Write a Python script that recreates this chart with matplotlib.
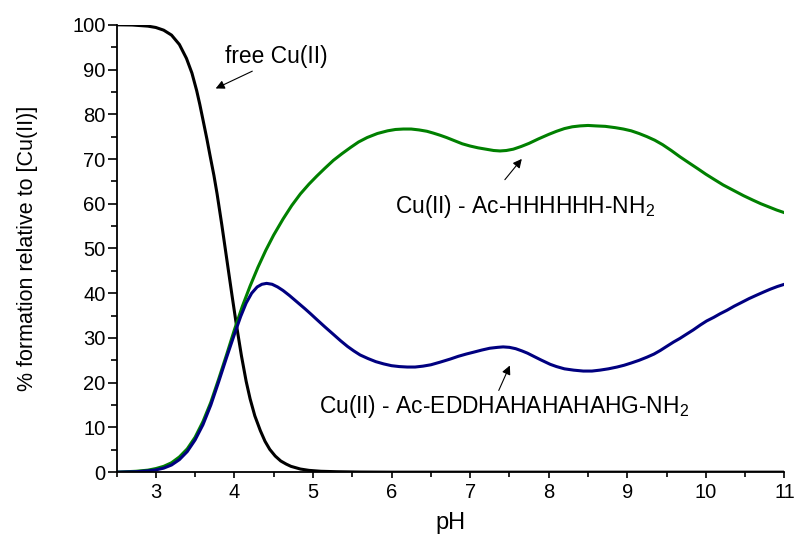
import matplotlib.pyplot as plt
from matplotlib.ticker import MultipleLocator

plt.rcParams["font.family"] = ["Liberation Sans", "DejaVu Sans"]
plt.rcParams["mathtext.fontset"] = "custom"
plt.rcParams["mathtext.rm"] = "Liberation Sans"
plt.rcParams["mathtext.default"] = "regular"

# free Cu(II)
ph_free = [2.5, 2.7, 2.9, 3.0, 3.1, 3.2, 3.3, 3.39, 3.46, 3.52, 3.56, 3.6, 3.65,
           3.69, 3.74, 3.78, 3.84, 3.9, 3.97, 4.02, 4.09, 4.15, 4.2, 4.26, 4.33,
           4.39, 4.45, 4.52, 4.59, 4.66, 4.72, 4.84, 4.95, 5.1, 5.3, 5.6, 6.0, 11.0]
free_cu = [100, 99.95, 99.7, 99.4, 98.8, 97.7, 95.6, 92.5, 89.2, 85.3, 82.2, 78.8, 74.5,
           70.8, 66.3, 62.2, 55.3, 48.0, 39.5, 33.6, 26.0, 20.3, 16.4, 12.6, 9.3,
           6.9, 5.1, 3.6, 2.5, 1.8, 1.3, 0.7, 0.4, 0.2, 0.1, 0.03, 0.0, 0.0]

# Cu(II) - Ac-HHHHHH-NH2
ph_h6 = [2.5, 2.75, 2.9, 3.0, 3.1, 3.2, 3.3, 3.4, 3.5, 3.6, 3.7, 3.8, 3.9, 4.0,
         4.1, 4.2, 4.3, 4.4, 4.5, 4.62, 4.73, 4.84, 4.95, 5.05, 5.15, 5.26, 5.37,
         5.48, 5.58, 5.69, 5.82, 5.95, 6.05, 6.15, 6.25, 6.35, 6.45, 6.53, 6.62,
         6.7, 6.8, 6.9, 7.0, 7.1, 7.2, 7.3, 7.38, 7.46, 7.55, 7.65, 7.75, 7.87,
         8.0, 8.1, 8.2, 8.3, 8.4, 8.5, 8.6, 8.72, 8.85, 8.95, 9.05, 9.15, 9.25,
         9.35, 9.45, 9.56, 9.67, 9.78, 9.9, 10.0, 10.1, 10.22, 10.35, 10.48, 10.6,
         10.7, 10.8, 10.9, 11.0]
h6 = [0.0, 0.2, 0.45, 0.8, 1.3, 2.1, 3.4, 5.2, 7.8, 11.3, 15.6, 20.8, 26.2, 31.8,
      37.0, 41.6, 45.8, 49.6, 53.0, 56.6, 59.6, 62.2, 64.4, 66.2, 67.9, 69.7, 71.2,
      72.6, 73.8, 74.8, 75.7, 76.3, 76.6, 76.7, 76.7, 76.5, 76.2, 75.8, 75.3,
      74.8, 74.1, 73.4, 72.9, 72.5, 72.2, 71.9, 71.8, 71.9, 72.2, 72.8, 73.5, 74.5,
      75.5, 76.2, 76.8, 77.2, 77.4, 77.5, 77.4, 77.3, 77.0, 76.7, 76.3, 75.7, 75.0,
      74.2, 73.2, 71.9, 70.5, 69.2, 67.8, 66.6, 65.5, 64.2, 63.0, 61.8, 60.8,
      60.0, 59.3, 58.6, 58.0]

# Cu(II) - Ac-EDDHAHAHAHAHG-NH2
ph_ah = [2.5, 2.75, 2.9, 3.0, 3.1, 3.2, 3.3, 3.4, 3.5, 3.6, 3.7, 3.8, 3.9, 4.0,
         4.08, 4.15, 4.22, 4.29, 4.35, 4.41, 4.48, 4.55, 4.62, 4.7, 4.8, 4.9, 4.97,
         5.05, 5.15, 5.26, 5.35, 5.44, 5.52, 5.6, 5.7, 5.8, 5.9, 6.0, 6.1, 6.2,
         6.3, 6.4, 6.5, 6.62, 6.75, 6.85, 6.95, 7.04, 7.15, 7.25, 7.35, 7.42, 7.5,
         7.58, 7.66, 7.73, 7.82, 7.9, 8.02, 8.1, 8.2, 8.32, 8.44, 8.55, 8.65, 8.76,
         8.87, 8.96, 9.05, 9.15, 9.25, 9.34, 9.42, 9.5, 9.59, 9.67, 9.75, 9.84,
         9.93, 10.01, 10.1, 10.18, 10.27, 10.36, 10.45, 10.55, 10.65, 10.74, 10.82,
         10.91, 11.0]
ah = [0.0, 0.1, 0.3, 0.5, 0.9, 1.6, 2.8, 4.6, 7.2, 10.6, 15.0, 20.2, 25.6, 30.8,
      34.8, 37.8, 40.0, 41.4, 42.0, 42.2, 42.0, 41.4, 40.6, 39.5, 38.0, 36.5, 35.4,
      34.1, 32.5, 30.8, 29.4, 28.1, 27.1, 26.2, 25.4, 24.7, 24.2, 23.8, 23.6, 23.5,
      23.5, 23.7, 24.0, 24.6, 25.3, 25.9, 26.4, 26.8, 27.3, 27.7, 27.9, 28.0, 27.9,
      27.6, 27.1, 26.6, 25.8, 25.1, 24.1, 23.6, 23.1, 22.8, 22.6, 22.6, 22.8, 23.1,
      23.5, 23.9, 24.4, 25.0, 25.7, 26.4, 27.2, 28.1, 29.1, 29.9, 30.8, 31.8,
      32.9, 33.8, 34.6, 35.4, 36.2, 37.1, 37.9, 38.8, 39.6, 40.3, 40.9,
      41.5, 42.0]

fig = plt.figure(figsize=(7.98, 5.39), dpi=100)
ax = fig.add_axes([0.146, 0.124, 0.837, 0.83])

ax.plot(ph_free, free_cu, color="black", lw=2.2)
ax.plot(ph_h6, h6, color="#008000", lw=2.2)
ax.plot(ph_ah, ah, color="#000080", lw=2.2)

ax.set_xlim(2.5, 11)
ax.set_ylim(0, 100)
ax.xaxis.set_major_locator(MultipleLocator(1))
ax.xaxis.set_minor_locator(MultipleLocator(0.5))
ax.yaxis.set_major_locator(MultipleLocator(10))
ax.yaxis.set_minor_locator(MultipleLocator(5))
ax.spines["top"].set_visible(False)
ax.spines["right"].set_visible(False)
for s in ("left", "bottom"):
    ax.spines[s].set_linewidth(1.3)
ax.tick_params(axis="both", which="both", direction="out", width=1.2, labelsize=14.5)
ax.tick_params(axis="y", which="major", length=6.5, pad=1.5)
ax.tick_params(axis="y", which="minor", length=4.5)
ax.tick_params(axis="x", which="major", length=4.5, pad=3)
ax.tick_params(axis="x", which="minor", length=3.5)

ax.set_xlabel("pH", fontsize=17)
ax.set_ylabel("% formation relative to [Cu(II)]", fontsize=15.5)
ax.xaxis.set_label_coords(0.5, -0.09)
ax.yaxis.set_label_coords(-0.1175, 0.5)

arr = dict(arrowstyle="-|>", color="black", lw=0.8, mutation_scale=13)
ax.text(3.88, 91.5, "free Cu(II)", fontsize=16.4, ha="left", va="baseline")
ax.annotate("", xy=(3.73, 85.5), xytext=(4.26, 89.9), arrowprops=arr)
ax.text(7.70, 57.9, "Cu(II) - Ac-HHHHHH-NH$_2$", fontsize=16.4, ha="center", va="baseline")
ax.annotate("", xy=(7.68, 70.5), xytext=(7.42, 64.9), arrowprops=arr)
ax.text(7.43, 13.2, "Cu(II) - Ac-EDDHAHAHAHAHG-NH$_2$", fontsize=16.4, ha="center", va="baseline")
ax.annotate("", xy=(7.52, 24.4), xytext=(7.35, 17.7), arrowprops=arr)

fig.savefig("out.png", dpi=100)
